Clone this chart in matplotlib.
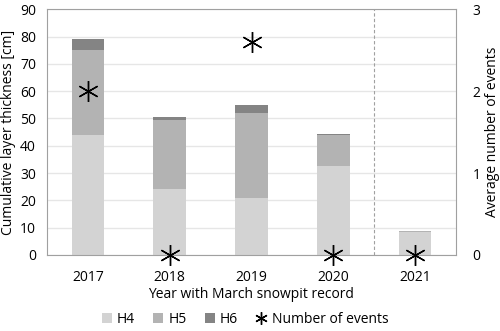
import numpy as np
import matplotlib.pyplot as plt

plt.rcParams['font.family'] = ['Open Sans', 'DejaVu Sans']

years = ['2017', '2018', '2019', '2020', '2021']
h4 = [44, 24, 21, 32.5, 8.3]
h5 = [31, 25.5, 31, 11.5, 0.6]
h6 = [4, 1, 3, 0.3, 0]
events = [2, 0, 2.6, 0, 0]

x = np.arange(len(years))
h4 = np.array(h4)
h5 = np.array(h5)
h6 = np.array(h6)

fig, ax = plt.subplots(figsize=(5, 3.31), dpi=100)
fig.subplots_adjust(left=0.094, right=0.912, top=0.972, bottom=0.23)

ax.bar(x, h4, width=0.4, color='#d3d3d3', label='H4', zorder=2)
ax.bar(x, h5, width=0.4, bottom=h4, color='#b3b3b3', label='H5', zorder=2)
ax.bar(x, h6, width=0.4, bottom=h4 + h5, color='#848484', label='H6', zorder=2)

ax.set_xlim(-0.5, 4.5)
ax.set_ylim(0, 90)
ax.set_yticks(range(0, 91, 10))
ax.set_xticks(x)
ax.set_xticklabels(years)
ax.tick_params(length=0, labelsize=10, colors='black')
ax.tick_params(axis='y', pad=8)
ax.tick_params(axis='x', pad=11)
ax.yaxis.grid(True, color='#e6e6e6', lw=1, zorder=0)
ax.set_axisbelow(True)
for s in ax.spines.values():
    s.set_color('#a0a0a0')
ax.axvline(3.5, color='#a0a0a0', ls='--', lw=0.8, dashes=(3, 2), zorder=1)

ax.set_ylabel('Cumulative layer thickness [cm]', fontsize=10, labelpad=3)
ax.set_xlabel('Year with March snowpit record', fontsize=10, labelpad=1)

ax2 = ax.twinx()
ax2.set_ylim(0, 3)
ax2.set_yticks([0, 1, 2, 3])
ax2.tick_params(length=0, labelsize=10, pad=12)
for s in ax2.spines.values():
    s.set_visible(False)
ax2.plot(x, events, ls='none', marker=(6, 2, 0), ms=15, mew=1.0,
         color='black', label='Number of events', clip_on=False, zorder=5)
ax2.set_ylabel('Average number of events', fontsize=10, labelpad=3)

h1, l1 = ax.get_legend_handles_labels()
h2, l2 = ax2.get_legend_handles_labels()
fig.legend(h1 + h2, l1 + l2, loc='lower center', ncol=4, frameon=False,
           fontsize=10, bbox_to_anchor=(0.49, -0.025), handlelength=0.7,
           handleheight=0.7, handletextpad=0.4, columnspacing=1.3,
           markerscale=0.6)

plt.savefig('out.png', dpi=100)
